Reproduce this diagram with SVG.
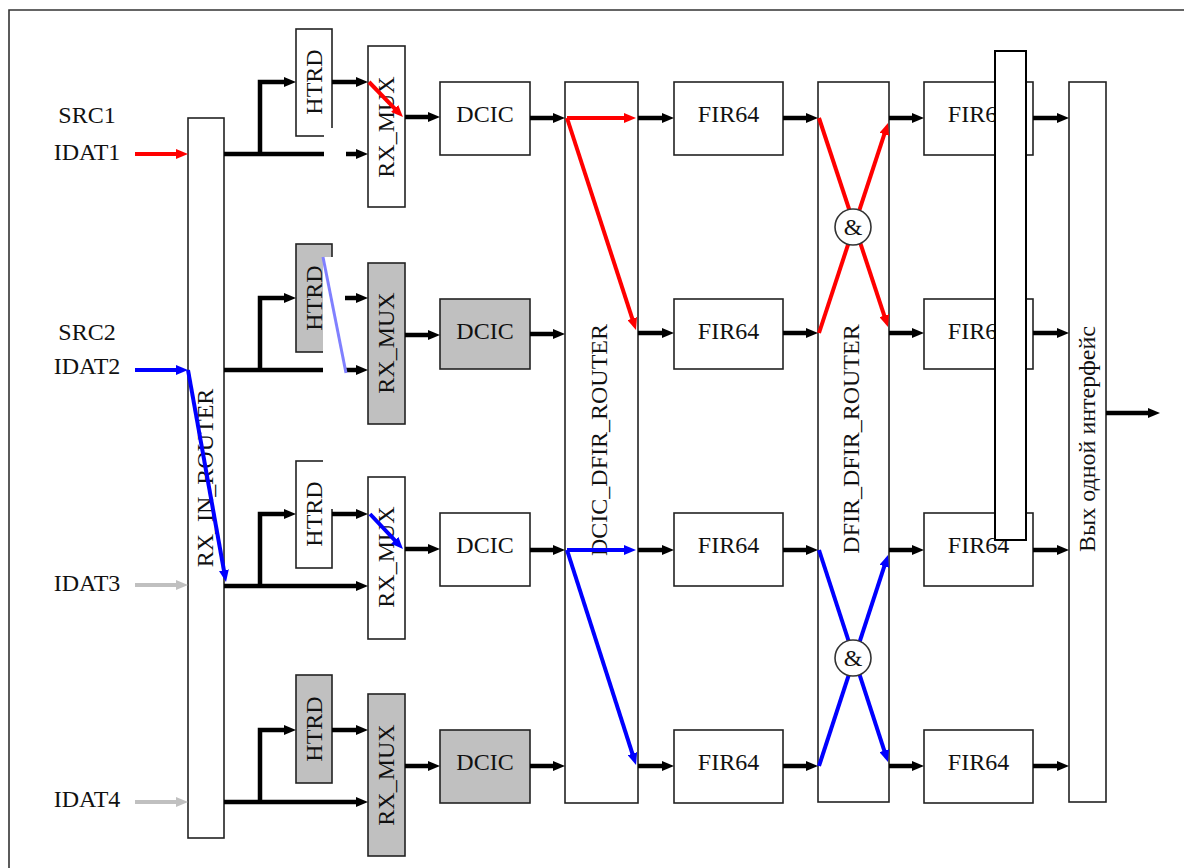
<svg xmlns="http://www.w3.org/2000/svg" width="1184" height="868" viewBox="0 0 1184 868">
<style>
.bx{fill:#fff;stroke:#222;stroke-width:1.6}
.gy{fill:#c0c0c0;stroke:#222;stroke-width:1.6}
.t{font-family:"Liberation Serif","Times New Roman",serif;font-size:24px;fill:#111;text-anchor:middle}
.k{stroke:#000;stroke-width:4.5;fill:none;marker-end:url(#ah)}
.kn{stroke:#000;stroke-width:4.5;fill:none}
.r{stroke:#ff0000;stroke-width:4;fill:none;marker-end:url(#ahR)}
.rn{stroke:#ff0000;stroke-width:4;fill:none}
.b{stroke:#0000ff;stroke-width:4;fill:none;marker-end:url(#ahB)}
.bn{stroke:#0000ff;stroke-width:4;fill:none}
.g{stroke:#c0c0c0;stroke-width:4;fill:none;marker-end:url(#ahG)}
.wm{fill:#fff;stroke:none}
</style>
<defs>
<marker id="ah" markerUnits="userSpaceOnUse" markerWidth="12" markerHeight="10" refX="4" refY="5" orient="auto"><path d="M0,0 L12,5 L0,10 z" fill="#000"/></marker>
<marker id="ahR" markerUnits="userSpaceOnUse" markerWidth="12" markerHeight="10" refX="4" refY="5" orient="auto"><path d="M0,0 L12,5 L0,10 z" fill="#ff0000"/></marker>
<marker id="ahB" markerUnits="userSpaceOnUse" markerWidth="12" markerHeight="10" refX="4" refY="5" orient="auto"><path d="M0,0 L12,5 L0,10 z" fill="#0000ff"/></marker>
<marker id="ahG" markerUnits="userSpaceOnUse" markerWidth="12" markerHeight="10" refX="4" refY="5" orient="auto"><path d="M0,0 L12,5 L0,10 z" fill="#c0c0c0"/></marker>
</defs>
<rect width="1184" height="868" fill="#fff"/>
<g id="frame"><path d="M9,868 V10 H1184" fill="none" stroke="#333" stroke-width="1.6"/></g>

<g id="labels">
<text class="t" x="87" y="123">SRC1</text>
<text class="t" x="87" y="160">IDAT1</text>
<text class="t" x="87" y="340">SRC2</text>
<text class="t" x="87" y="374">IDAT2</text>
<text class="t" x="87" y="591">IDAT3</text>
<text class="t" x="87" y="807">IDAT4</text>
</g>

<g id="rx_in_router"><rect class="bx" x="188" y="118" width="36" height="720"/><text class="t" transform="translate(206,478) rotate(-90)" y="7">RX_IN_ROUTER</text></g>

<g id="htrd1"><rect class="bx" x="296" y="29" width="36" height="107"/><text class="t" transform="translate(314,82) rotate(-90)" y="8">HTRD</text></g>
<g id="htrd2"><rect class="gy" x="296" y="244" width="36" height="108"/><text class="t" transform="translate(314,298) rotate(-90)" y="8">HTRD</text></g>
<g id="htrd3"><rect class="bx" x="296" y="461" width="36" height="107"/><text class="t" transform="translate(314,514) rotate(-90)" y="8">HTRD</text></g>
<g id="htrd4"><rect class="gy" x="296" y="675" width="36" height="108"/><text class="t" transform="translate(314,729) rotate(-90)" y="8">HTRD</text></g>

<g id="rxmux1"><rect class="bx" x="368" y="46" width="37" height="161"/><text class="t" transform="translate(386.5,127) rotate(-90)" y="7">RX_MUX</text></g>
<g id="rxmux2"><rect class="gy" x="368" y="263" width="37" height="161"/><text class="t" transform="translate(386.5,343) rotate(-90)" y="7">RX_MUX</text></g>
<g id="rxmux3"><rect class="bx" x="368" y="477" width="37" height="162"/><text class="t" transform="translate(386.5,557) rotate(-90)" y="7">RX_MUX</text></g>
<g id="rxmux4"><rect class="gy" x="368" y="694" width="37" height="162"/><text class="t" transform="translate(386.5,775) rotate(-90)" y="7">RX_MUX</text></g>

<g id="dcic1"><rect class="bx" x="440" y="82" width="90" height="73"/><text class="t" x="485" y="122">DCIC</text></g>
<g id="dcic2"><rect class="gy" x="440" y="299" width="90" height="70"/><text class="t" x="485" y="339">DCIC</text></g>
<g id="dcic3"><rect class="bx" x="440" y="513" width="90" height="73"/><text class="t" x="485" y="553">DCIC</text></g>
<g id="dcic4"><rect class="gy" x="440" y="730" width="90" height="73"/><text class="t" x="485" y="770">DCIC</text></g>

<g id="dcic_dfir_router"><rect class="bx" x="565" y="82" width="73" height="721"/><text class="t" transform="translate(601.5,440) rotate(-90)" y="5">DCIC_DFIR_ROUTER</text></g>

<g id="fir64_1a"><rect class="bx" x="674" y="82" width="109" height="73"/><text class="t" x="728.5" y="122">FIR64</text></g>
<g id="fir64_2a"><rect class="bx" x="674" y="299" width="109" height="70"/><text class="t" x="728.5" y="339">FIR64</text></g>
<g id="fir64_3a"><rect class="bx" x="674" y="513" width="109" height="73"/><text class="t" x="728.5" y="553">FIR64</text></g>
<g id="fir64_4a"><rect class="bx" x="674" y="730" width="109" height="73"/><text class="t" x="728.5" y="770">FIR64</text></g>

<g id="dfir_dfir_router"><rect class="bx" x="818" y="82" width="71" height="720"/><text class="t" transform="translate(853.5,439) rotate(-90)" y="5">DFIR_DFIR_ROUTER</text></g>

<g id="fir64_1b"><rect class="bx" x="924" y="82" width="109" height="73"/><text class="t" x="978.5" y="122">FIR64</text></g>
<g id="fir64_2b"><rect class="bx" x="924" y="299" width="109" height="70"/><text class="t" x="978.5" y="339">FIR64</text></g>
<g id="fir64_3b"><rect class="bx" x="924" y="513" width="109" height="73"/><text class="t" x="978.5" y="553">FIR64</text></g>
<g id="fir64_4b"><rect class="bx" x="924" y="730" width="109" height="73"/><text class="t" x="978.5" y="770">FIR64</text></g>

<g id="out_if"><rect class="bx" x="1069" y="82" width="37" height="720"/><text class="t" transform="translate(1087.5,439) rotate(-90)" y="7">Вых одной интерфейс</text></g>

<g id="connectors">
<path class="r" d="M135,154 H180"/>
<path class="b" d="M135,370 H180"/>
<path class="g" d="M135,585 H180"/>
<path class="g" d="M135,802 H180"/>

<path class="k" d="M224,154 H360"/>
<path class="k" d="M260,154 V82 H288"/>
<path class="k" d="M332,82 H360"/>
<path class="k" d="M405,117 H432"/>
<path class="k" d="M530,118 H557"/>
<path class="k" d="M638,118 H666"/>
<path class="k" d="M783,118 H810"/>
<path class="k" d="M889,118 H916"/>
<path class="k" d="M1033,118 H1061"/>

<path class="k" d="M224,370 H360"/>
<path class="k" d="M260,370 V298 H288"/>
<path class="k" d="M332,298 H360"/>
<path class="k" d="M405,335 H432"/>
<path class="k" d="M530,334 H557"/>
<path class="k" d="M638,333 H666"/>
<path class="k" d="M783,333 H810"/>
<path class="k" d="M889,333 H916"/>
<path class="k" d="M1033,333 H1061"/>

<path class="k" d="M224,586 H360"/>
<path class="k" d="M260,586 V514 H288"/>
<path class="k" d="M332,514 H360"/>
<path class="k" d="M405,549 H432"/>
<path class="k" d="M530,550 H557"/>
<path class="k" d="M638,550 H666"/>
<path class="k" d="M783,550 H810"/>
<path class="k" d="M889,550 H916"/>
<path class="k" d="M1033,550 H1061"/>

<path class="k" d="M224,802 H360"/>
<path class="k" d="M260,802 V730 H288"/>
<path class="k" d="M332,730 H360"/>
<path class="k" d="M405,766 H432"/>
<path class="k" d="M530,766 H557"/>
<path class="k" d="M638,766 H666"/>
<path class="k" d="M783,766 H810"/>
<path class="k" d="M889,766 H916"/>
<path class="k" d="M1033,766 H1061"/>

<path class="k" d="M1106,413 H1152"/>

<rect class="wm" x="324" y="128" width="22" height="40"/>
<rect class="wm" x="323" y="257" width="22" height="122"/>
<rect class="wm" x="323" y="455" width="22" height="54"/>

<path d="M323,257 L346,373" stroke="#8080ff" stroke-width="3" fill="none"/>

<path class="b" d="M188,370 L224.6,574.1"/>
<path class="r" d="M369,82 L397.4,111.3"/>
<path class="b" d="M370,514 L397.5,543.2"/>

<path class="r" d="M567,118 H628"/>
<path class="r" d="M567,118 L633.5,322.4"/>
<path class="b" d="M567,550 H628"/>
<path class="b" d="M567,550 L633.6,757.4"/>

<path class="r" d="M819,118 L885.5,319.4"/>
<path class="r" d="M819,333 L885.5,130.6"/>
<path class="b" d="M819,550 L885.5,754.4"/>
<path class="b" d="M819,766 L885.5,562.6"/>
</g>

<g id="and1"><circle cx="853" cy="227" r="18" fill="#fff" stroke="#333" stroke-width="1.6"/><text class="t" x="853" y="235">&amp;</text></g>
<g id="and2"><circle cx="853" cy="658" r="18" fill="#fff" stroke="#333" stroke-width="1.6"/><text class="t" x="853" y="666">&amp;</text></g>

<g id="overlay_bar"><rect x="995" y="51" width="31" height="489" fill="#fff" stroke="#000" stroke-width="2"/></g>
</svg>
